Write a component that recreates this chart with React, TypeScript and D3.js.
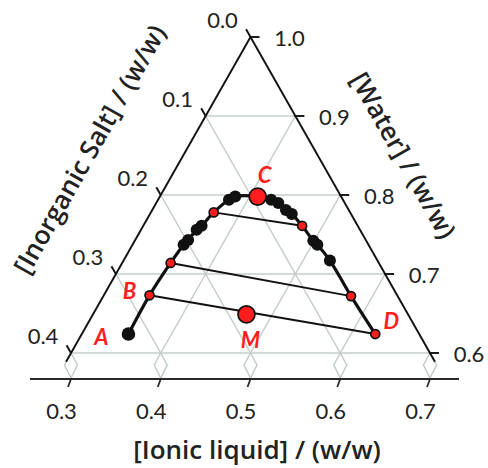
import React from "react";
import * as d3 from "d3";

// ---- data (bottom-axis IL value, water fraction) ----
const binodalIL = [0.352, 0.351, 0.354, 0.357, 0.359, 0.362, 0.365, 0.370, 0.379, 0.384, 0.409, 0.426, 0.436, 0.449, 0.458, 0.477, 0.499, 0.506, 0.530, 0.576, 0.627];
const binodalWater = [0.624, 0.673, 0.714, 0.737, 0.743, 0.756, 0.761, 0.778, 0.794, 0.798, 0.798, 0.794, 0.790, 0.781, 0.776, 0.761, 0.742, 0.737, 0.717, 0.672, 0.624];

const blackIL = [0.357, 0.359, 0.362, 0.365, 0.379, 0.384, 0.426, 0.436, 0.449, 0.458, 0.499, 0.506, 0.530];
const blackWater = [0.737, 0.743, 0.756, 0.761, 0.794, 0.798, 0.794, 0.790, 0.781, 0.776, 0.742, 0.737, 0.717];

const tieLeftIL = [0.351, 0.354, 0.370];
const tieLeftWater = [0.673, 0.714, 0.778];
const tieRightIL = [0.627, 0.576, 0.477];
const tieRightWater = [0.624, 0.672, 0.761];

const pointA = { il: 0.352, water: 0.624 };
const pointC = { il: 0.409, water: 0.798 };
const pointM = { il: 0.471, water: 0.649 };

const letterNames = ["A", "B", "C", "D", "M"];

const saltTicks = [0.0, 0.1, 0.2, 0.3, 0.4];
const waterTicks = [1.0, 0.9, 0.8, 0.7, 0.6];
const ilTicks = [0.3, 0.4, 0.5, 0.6, 0.7];

const FONT = "Lato, 'Open Sans', sans-serif";
const TITLE_FONT = "'Open Sans', Lato, sans-serif";
const RED = "#ff1d1d";
const GRID = "#c4ccc8";

export default function App() {
  const xIL = d3.scaleLinear().domain([0.3, 0.7]).range([71, 430]);
  const yW = d3.scaleLinear().domain([1.0, 0.6]).range([37, 353]);
  const shear = (xIL(0.7) - xIL(0.3)) / 0.8;
  const proj = (il: number, w: number): [number, number] => [xIL(il) + (w - 0.6) * shear, yW(w)];

  const apex = proj(0.3, 1.0);
  const leftEnd = proj(0.3, 0.589);
  const rightEnd = proj(1.3 - 0.589, 0.589);

  const line = d3.line<[number, number]>().curve(d3.curveCatmullRom.alpha(0.5));
  const binodalPts = binodalIL.map((v, i) => proj(v, binodalWater[i]));

  const gridLines: [number, number][][] = [];
  [0.9, 0.8, 0.7, 0.6].forEach((w) => gridLines.push([proj(0.3, w), proj(1.3 - w, w)]));
  [0.4, 0.5, 0.6].forEach((il) => gridLines.push([proj(il, 0.6), proj(il, 1.3 - il)]));
  [0.1, 0.2, 0.3].forEach((s) => gridLines.push([proj(0.3, 1 - s), proj(0.7 - s, 0.6)]));

  const axisY = 379;
  const tl = 9;
  const ux = -0.493, uy = -0.87; // direction parallel to right edge (upwards)

  const A = proj(pointA.il, pointA.water);
  const B = proj(tieLeftIL[0], tieLeftWater[0]);
  const C = proj(pointC.il, pointC.water);
  const D = proj(tieRightIL[0], tieRightWater[0]);
  const M = proj(pointM.il, pointM.water);
  const letterPos: [number, number][] = [
    [A[0] - 27, A[1] + 2],
    [B[0] - 20, B[1] - 5],
    [C[0] + 7, C[1] - 22],
    [D[0] + 16, D[1] - 14],
    [M[0] + 4, M[1] + 25],
  ];

  return (
    <svg width={488} height={468} style={{ position: "absolute", left: 0, top: 0, background: "#fff" }} fontFamily={FONT}>
      {/* grid */}
      <g stroke={GRID} strokeWidth={1.5} fill="none">
        {gridLines.map((g, i) => (
          <line key={i} x1={g[0][0]} y1={g[0][1]} x2={g[1][0]} y2={g[1][1]} />
        ))}
        {ilTicks.map((v, i) => {
          const xb = xIL(v), yb = yW(0.6);
          return (
            <path key={"d" + i} d={`M${xb},${yb} L${xb - 6.5},${yb + 12} L${xb},${axisY - 1} L${xb + 6.5},${yb + 12} Z`} />
          );
        })}
      </g>

      {/* triangle edges */}
      <g stroke="#111" strokeWidth={1.9} fill="none">
        <line x1={apex[0]} y1={apex[1]} x2={leftEnd[0]} y2={leftEnd[1]} />
        <line x1={apex[0]} y1={apex[1]} x2={rightEnd[0]} y2={rightEnd[1]} />
        {saltTicks.map((s, i) => {
          const p = proj(0.3, 1 - s);
          return <line key={"ls" + i} x1={p[0]} y1={p[1]} x2={p[0] + ux * tl} y2={p[1] + uy * tl} />;
        })}
        {waterTicks.map((w, i) => {
          const p = proj(1.3 - w, w);
          return <line key={"rw" + i} x1={p[0] - 1} y1={p[1]} x2={p[0] + tl} y2={p[1]} />;
        })}
      </g>

      {/* bottom axis */}
      <g stroke="#2a2a2a" strokeWidth={2.2} fill="none">
        <line x1={30} y1={axisY} x2={459} y2={axisY} />
        {ilTicks.map((v, i) => (
          <line key={"bt" + i} x1={xIL(v)} y1={axisY} x2={xIL(v) - 3} y2={axisY + 8} strokeWidth={1.8} />
        ))}
      </g>

      {/* tick labels */}
      <g fontSize={22} fill="#222">
        {saltTicks.map((s, i) => {
          const p = proj(0.3, 1 - s);
          return (
            <text key={"lt" + i} x={p[0] - 28} y={p[1] - 18} textAnchor="middle" dominantBaseline="central">
              {s.toFixed(1)}
            </text>
          );
        })}
        {waterTicks.map((w, i) => {
          const p = proj(1.3 - w, w);
          return (
            <text key={"rt" + i} x={p[0] + 39} y={p[1]} textAnchor="middle" dominantBaseline="central">
              {w.toFixed(1)}
            </text>
          );
        })}
        {ilTicks.map((v, i) => (
          <text key={"btl" + i} x={xIL(v) - 9.5} y={410.5} textAnchor="middle" dominantBaseline="central">
            {v.toFixed(1)}
          </text>
        ))}
      </g>

      {/* axis titles */}
      <g fontSize={26} fontWeight={600} fill="#222" fontFamily={TITLE_FONT}>
        <text x={257} y={449} textAnchor="middle" dominantBaseline="central">[Ionic liquid] / (w/w)</text>
        <text transform="translate(89,149) rotate(-60.5)" textAnchor="middle" dominantBaseline="central">[Inorganic Salt] / (w/w)</text>
        <text transform="translate(404,155) rotate(60.5)" textAnchor="middle" dominantBaseline="central">[Water] / (w/w)</text>
      </g>

      {/* tie lines */}
      <g stroke="#111" strokeWidth={2} fill="none">
        {tieLeftIL.map((v, i) => {
          const p1 = proj(v, tieLeftWater[i]);
          const p2 = proj(tieRightIL[i], tieRightWater[i]);
          return <line key={"tie" + i} x1={p1[0]} y1={p1[1]} x2={p2[0]} y2={p2[1]} />;
        })}
      </g>

      {/* binodal curve */}
      <path d={line(binodalPts) || ""} stroke="#111" strokeWidth={3.2} fill="none" />

      {/* black experimental points */}
      <g fill="#111">
        {blackIL.map((v, i) => {
          const p = proj(v, blackWater[i]);
          return <circle key={"b" + i} cx={p[0]} cy={p[1]} r={6} />;
        })}
        <circle cx={A[0]} cy={A[1]} r={6.8} />
      </g>

      {/* tie-line ends */}
      <g fill={RED} stroke="#111" strokeWidth={1.7}>
        {tieLeftIL.map((v, i) => {
          const p = proj(v, tieLeftWater[i]);
          return <circle key={"tl" + i} cx={p[0]} cy={p[1]} r={4.5} />;
        })}
        {tieRightIL.map((v, i) => {
          const p = proj(v, tieRightWater[i]);
          return <circle key={"tr" + i} cx={p[0]} cy={p[1]} r={4.5} />;
        })}
        <circle cx={C[0]} cy={C[1]} r={8.5} />
        <circle cx={M[0]} cy={M[1]} r={8.5} />
      </g>

      {/* letters */}
      <g fontSize={22} fontWeight={700} fontStyle="italic" fill={RED}>
        {letterNames.map((n, i) => (
          <text key={n} x={letterPos[i][0]} y={letterPos[i][1]} textAnchor="middle" dominantBaseline="central">
            {n}
          </text>
        ))}
      </g>
    </svg>
  );
}
